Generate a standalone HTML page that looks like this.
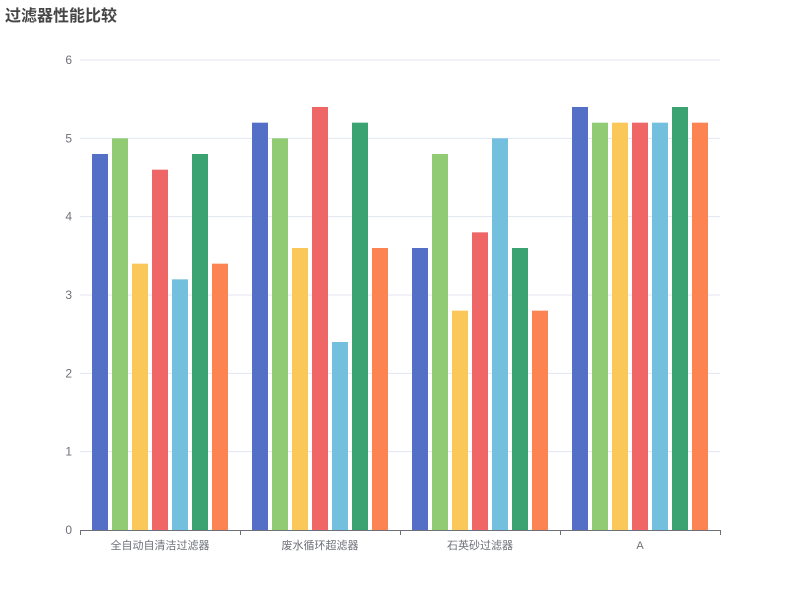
<!DOCTYPE html>
<html><head><meta charset="utf-8">
<style>
html,body{margin:0;padding:0;background:#fff;}
svg{display:block;font-family:"Liberation Sans","Noto Sans CJK SC",sans-serif;}
</style></head>
<body>
<svg id="chart" width="800" height="600">
<text x="5" y="21" font-size="16" font-weight="bold" fill="#464646">过滤器性能比较</text>
<g id="grid"></g><g id="bars"></g><g id="axes"></g>
</svg>
<script>
const categories = ["全自动自清洁过滤器","废水循环超滤器","石英砂过滤器","A"];
const s1 = [4.8,5.2,3.6,5.4];
const s2 = [5.0,5.0,4.8,5.2];
const s3 = [3.4,3.6,2.8,5.2];
const s4 = [4.6,5.4,3.8,5.2];
const s5 = [3.2,2.4,5.0,5.2];
const s6 = [4.8,5.2,3.6,5.4];
const s7 = [3.4,3.6,2.8,5.2];
const yTicks = [0,1,2,3,4,5,6];
const series = [s1,s2,s3,s4,s5,s6,s7];
const colors = ["#5470c6","#91cc75","#fac858","#ee6666","#73c0de","#3ba272","#fc8452"];
const NS="http://www.w3.org/2000/svg";
const L=80,R=720,T=60,B=530,yMax=6;
const y=v=>B-(v/yMax)*(B-T);
const bandW=(R-L)/categories.length;
function mk(tag,attrs,parent){const e=document.createElementNS(NS,tag);for(const k in attrs)e.setAttribute(k,attrs[k]);parent.appendChild(e);return e;}
const grid=document.getElementById('grid'),bars=document.getElementById('bars'),axes=document.getElementById('axes');
yTicks.forEach(t=>{
  if(t>0){const l=mk('line',{x1:L,x2:R,y1:y(t),y2:y(t),stroke:'#e0e6f1'},grid);
  
  }
  const tx=mk('text',{x:72,y:y(t)+4,'text-anchor':'end','font-size':12,fill:'#6e7079'},axes);
  tx.textContent=t;
  
  
});
const barW=16,gap=4,n=series.length;
const groupW=n*barW+(n-1)*gap;
categories.forEach((c,i)=>{
  const x0=L+i*bandW+(bandW-groupW)/2;
  series.forEach((s,j)=>{
    const r=mk('rect',{x:x0+j*(barW+gap),y:y(s[i]),width:barW,height:B-y(s[i]),fill:colors[j]},bars);
    
    
  });
  const tx=mk('text',{x:L+(i+0.5)*bandW,y:B+19,'text-anchor':'middle','font-size':11,fill:'#6e7079'},axes);
  tx.textContent=c;
  
  
});
const ax=mk('line',{x1:L,x2:R,y1:B+0.5,y2:B+0.5,stroke:'#6e7079'},axes);


for(let i=0;i<=categories.length;i++){
  const xx=Math.round(L+i*bandW)+0.5;
  const tk=mk('line',{x1:xx,x2:xx,y1:B,y2:B+5,stroke:'#6e7079'},axes);
  
  
}
</script>
</body></html>
